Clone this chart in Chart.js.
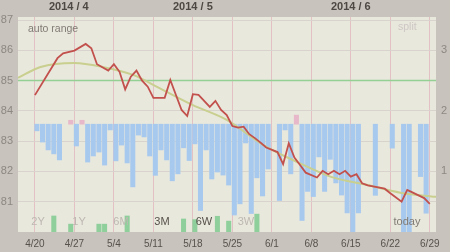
<!DOCTYPE html>
<html><head><meta charset="utf-8">
<script src="https://cdn.jsdelivr.net/npm/chart.js@4.4.1/dist/chart.umd.min.js"></script>
<style>html,body{margin:0;padding:0;background:#c8c3bc;overflow:hidden}</style>
</head><body><canvas id="c" width="450" height="252"></canvas>
<script>
// ---- data ----
const TICK_DAYS = [0,7,14,21,28,35,42,49,56,63,70];
const TICK_LABELS = ['4/20','4/27','5/4','5/11','5/18','5/25','6/1','6/8','6/15','6/22','6/29'];
const MONTH_DAYS = [6,28,56];
const MONTH_LABELS = ['2014 / 4','2014 / 5','2014 / 6'];
const LEFT_TICKS = [81,82,83,84,85,86,87];
const RIGHT_TICKS = [1,2,3];
const GOAL = 85;
// daily weight, day 0 = 4/20 (null = no entry)
const WEIGHT = [84.52,null,null,null,85.74,85.90,null,85.99,null,86.21,
  86.07,85.54,null,85.33,85.54,85.29,84.71,85.13,85.33,85.00,
  84.80,84.43,null,84.43,85.02,null,84.03,83.83,84.55,84.53,
  null,84.13,84.33,84.03,83.86,83.50,83.45,83.48,83.23,83.10,
  82.95,82.79,null,82.64,82.24,82.93,82.46,82.21,81.96,null,
  81.80,82.02,81.91,82.02,81.91,82.02,81.83,81.91,81.61,81.54,
  null,null,81.43,81.28,null,81.00,81.39,81.30,null,81.12,80.93];
// trend curve samples
const TREND_DAYS = [-3,1,7,12,17.5,22,28,34,40.5,46.5,52.5,59,65,71.1];
const TREND = [85.09,85.45,85.58,85.45,85.18,84.76,84.19,83.70,82.87,82.31,81.82,81.55,81.29,81.16];
// split bars: blue hang down from the base line, pink go up
const SPLIT_BASE = 83.56;
const SPLIT_LOW = [83.34,82.97,82.71,82.58,82.38,null,null,82.84,null,82.31,
  82.51,82.64,82.21,83.37,82.35,82.87,82.28,81.49,83.20,83.14,
  82.51,81.87,82.71,82.38,81.69,81.92,82.78,82.36,82.91,80.71,
  82.71,81.75,81.98,81.88,81.55,80.56,80.93,82.94,80.61,81.79,
  81.19,82.08,null,81.04,83.37,81.92,null,80.38,81.34,81.17,
  82.48,81.34,82.40,81.62,81.22,80.63,80.00,80.63,null,null,
  81.21,null,null,82.77,null,80.00,80.00,null,81.83,80.62,null];
const SPLIT_UP_DAYS = [6,8,46];
const SPLIT_UP = [83.69,83.69,83.86];
const GREEN_DAYS = [3,6,11,12,16,26,28,32,34,39];
const GREEN = [80.53,80.26,80.26,80.26,80.53,80.43,80.41,80.52,80.36,80.59];

// ---- layout / style ----
const X_MIN = -3.0, X_MAX = 71.1;
const BAR_SHIFT = 0.35;
const FONT = '"Liberation Sans", Arial, sans-serif';

const weightPts = WEIGHT.map((v,i)=>({x:i,y:v}));
const trendPts = TREND_DAYS.map((d,i)=>({x:d,y:TREND[i]}));
const bluePts = SPLIT_LOW.map((v,i)=> v==null?null:{x:i+BAR_SHIFT,y:[v,SPLIT_BASE]}).filter(p=>p);
const pinkPts = SPLIT_UP_DAYS.map((d,i)=>({x:d+BAR_SHIFT,y:[SPLIT_BASE,SPLIT_UP[i]]}));
const greenPts = GREEN_DAYS.map((d,i)=>({x:d+BAR_SHIFT,y:[80,GREEN[i]]}));
const goalPts = [{x:X_MIN,y:GOAL},{x:X_MAX,y:GOAL}];

const bg = {
  id:'bg',
  beforeDraw(ch){
    const {ctx,chartArea:a} = ch;
    ctx.save();
    ctx.fillStyle = '#c8c3bc'; ctx.fillRect(0,0,ch.width,ch.height);
    ctx.fillStyle = '#e9e8dd'; ctx.fillRect(a.left,a.top,a.right-a.left,a.bottom-a.top);
    ctx.restore();
  }
};
const texts = {
  id:'texts',
  afterDatasetsDraw(ch){
    const {ctx,chartArea:a} = ch;
    ctx.save();
    ctx.textBaseline = 'middle';
    ctx.font = '10.5px '+FONT;
    ctx.fillStyle = '#807b75'; ctx.textAlign='left';
    ctx.fillText('auto range', a.left+10, a.top+12);
    ctx.fillStyle = '#cdc6c4';
    ctx.fillText('split', a.right-38, a.top+10);
    ctx.font = '11px '+FONT; ctx.textAlign='center';
    const rng = [['2Y',38,'#bdb8b2'],['1Y',79,'#bdb8b2'],['6M',121,'#bdb8b2'],['3M',162,'#56514b'],['6W',204,'#56514b'],['3W',246,'#bdb8b2']];
    rng.forEach(r=>{ctx.fillStyle=r[2]; ctx.fillText(r[0], r[1], a.bottom-10);});
    ctx.fillStyle='#807b75'; ctx.fillText('today', a.right-29, a.bottom-10);
    ctx.restore();
  }
};

new Chart(document.getElementById('c'), {
  data:{datasets:[
    {type:'line', data:weightPts, borderColor:'#c2504c', borderWidth:1.8, pointRadius:0, spanGaps:true, tension:0, order:0, xAxisID:'x', yAxisID:'y'},
    {type:'line', data:trendPts, borderColor:'#c9cf8e', borderWidth:2, pointRadius:0, cubicInterpolationMode:'monotone', order:1, xAxisID:'x', yAxisID:'y'},
    {type:'line', data:goalPts, borderColor:'#94d094', borderWidth:1.5, pointRadius:0, order:2, xAxisID:'x', yAxisID:'y'},
    {type:'bar', data:bluePts, backgroundColor:'#a8c9ee', barThickness:4.4, grouped:false, order:3, xAxisID:'x', yAxisID:'y'},
    {type:'bar', data:pinkPts, backgroundColor:'#e6b8c9', barThickness:4.4, grouped:false, order:3, xAxisID:'x', yAxisID:'y'},
    {type:'bar', data:greenPts, backgroundColor:'#8fcf9b', barThickness:4.4, grouped:false, order:3, xAxisID:'x', yAxisID:'y'}
  ]},
  options:{
    responsive:false, animation:false, devicePixelRatio:1,
    layout:{padding:0},
    plugins:{legend:{display:false}, tooltip:{enabled:false}},
    scales:{
      x:{type:'linear', position:'bottom', min:X_MIN, max:X_MAX, offset:false,
        afterBuildTicks:s=>{s.ticks=TICK_DAYS.map(v=>({value:v}));},
        afterFit:s=>{s.height=20;},
        ticks:{callback:v=>TICK_LABELS[TICK_DAYS.indexOf(v)], color:'#57524c', font:{size:10,family:FONT}, padding:6, maxRotation:0, autoSkip:false},
        grid:{color:'#e3c0c3', drawTicks:false, lineWidth:1, offset:false}, border:{display:false}},
      xTop:{type:'linear', position:'top', min:X_MIN, max:X_MAX, offset:false,
        afterBuildTicks:s=>{s.ticks=MONTH_DAYS.map(v=>({value:v}));},
        afterFit:s=>{s.height=17;},
        ticks:{callback:v=>MONTH_LABELS[MONTH_DAYS.indexOf(v)], color:'#4d4843', font:{size:11,weight:'bold',family:FONT}, padding:3, maxRotation:0, autoSkip:false},
        grid:{display:false, drawTicks:false}, border:{display:false}},
      y:{position:'left', min:80, max:87.1,
        afterBuildTicks:s=>{s.ticks=LEFT_TICKS.map(v=>({value:v}));},
        afterFit:s=>{s.width=18;},
        ticks:{color:'#8d8882', font:{size:11,family:FONT}, padding:5},
        grid:{color:'#d9d3ce', drawTicks:false}, border:{display:false}},
      y2:{position:'right', min:0, max:3.55,
        afterBuildTicks:s=>{s.ticks=RIGHT_TICKS.map(v=>({value:v}));},
        afterFit:s=>{s.width=14;},
        ticks:{color:'#8d8882', font:{size:11,family:FONT}, padding:5},
        grid:{display:false, drawTicks:false}, border:{display:false}}
    }
  },
  plugins:[bg,texts]
});
</script></body></html>
